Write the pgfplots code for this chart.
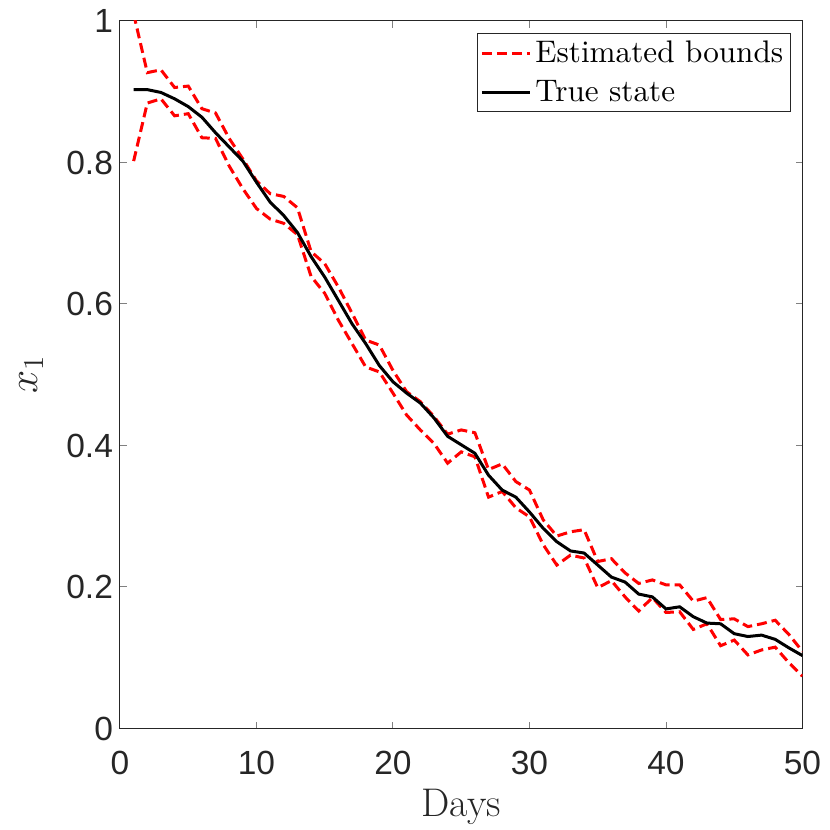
\documentclass[border=0pt]{standalone}
\usepackage{fontspec}
\usepackage{pgfplots}
\pgfplotsset{compat=1.18}
\newfontfamily\helv{Liberation Sans}
\newfontfamily\lmten{lmroman10-regular}[Extension=.otf]
\definecolor{mgray}{rgb}{0.15,0.15,0.15}
\begin{document}
\begin{tikzpicture}
\begin{axis}[
  name=ax,
  scale only axis,
  width=341.25pt, height=353.75pt,
  xmin=0, xmax=50, ymin=0, ymax=1,
  xtick={0,10,20,30,40,50},
  ytick={0,0.2,0.4,0.6,0.8,1},
  yticklabels={0,0.2,0.4,0.6,0.8,1},
  tick align=inside,
  major tick length=3.5pt,
  axis line style={mgray, line width=0.5pt},
  tick style={black!50, line width=0.5pt},
  /pgf/number format/assume math mode=true,
  tick label style={font=\helv\fontsize{16.75}{20}\selectfont, text=mgray},
  xticklabel style={yshift=-8pt},
  xlabel={Days},
  ylabel={$x_1$},
  label style={font=\fontsize{20}{24}\selectfont, text=mgray},
  xlabel style={at={(axis description cs:0.5,-0.1244)}, anchor=base},
  ylabel style={at={(axis description cs:-0.1216,0.5)}, anchor=base},
  legend style={at={(1,1)}, anchor=north east, xshift=-5.9pt, yshift=-6.15pt,
    draw=mgray, line width=0.5pt, font=\lmten\fontsize{15.6}{19}\selectfont,
    inner sep=1.5pt, row sep=3.5pt},
  legend cell align=left,
  legend image code/.code={\draw[#1] (0pt,0pt) -- (24pt,0pt);},
]
\addplot[red, line width=1.5pt, dash pattern=on 5pt off 2.5pt] coordinates {
(1,1.01)(2,0.927)(3,0.931)(4,0.906)(5,0.908)(6,0.876)(7,0.870)(8,0.834)(9,0.805)(10,0.774)
(11,0.756)(12,0.752)(13,0.736)(14,0.674)(15,0.657)(16,0.624)(17,0.587)(18,0.549)(19,0.542)(20,0.506)
(21,0.476)(22,0.462)(23,0.441)(24,0.416)(25,0.422)(26,0.418)(27,0.366)(28,0.374)(29,0.349)(30,0.337)
(31,0.295)(32,0.272)(33,0.278)(34,0.281)(35,0.236)(36,0.240)(37,0.220)(38,0.205)(39,0.210)(40,0.203)
(41,0.203)(42,0.180)(43,0.185)(44,0.154)(45,0.155)(46,0.144)(47,0.148)(48,0.153)(49,0.133)(50,0.109)
};
\addlegendentry{Estimated bounds}
\addplot[red, line width=1.5pt, dash pattern=on 5pt off 2.5pt, forget plot] coordinates {
(1,0.802)(2,0.884)(3,0.890)(4,0.866)(5,0.869)(6,0.835)(7,0.834)(8,0.795)(9,0.763)(10,0.735)
(11,0.720)(12,0.714)(13,0.698)(14,0.639)(15,0.615)(16,0.577)(17,0.544)(18,0.511)(19,0.504)(20,0.474)
(21,0.443)(22,0.422)(23,0.403)(24,0.375)(25,0.391)(26,0.384)(27,0.327)(28,0.335)(29,0.312)(30,0.299)
(31,0.260)(32,0.231)(33,0.245)(34,0.241)(35,0.199)(36,0.209)(37,0.186)(38,0.166)(39,0.185)(40,0.164)
(41,0.165)(42,0.140)(43,0.148)(44,0.117)(45,0.125)(46,0.104)(47,0.111)(48,0.115)(49,0.093)(50,0.074)
};
\addplot[black, line width=1.5pt] coordinates {
(1,0.903)(2,0.903)(3,0.899)(4,0.890)(5,0.879)(6,0.864)(7,0.842)(8,0.822)(9,0.802)(10,0.772)
(11,0.744)(12,0.725)(13,0.701)(14,0.667)(15,0.638)(16,0.605)(17,0.572)(18,0.544)(19,0.513)(20,0.490)
(21,0.474)(22,0.460)(23,0.439)(24,0.413)(25,0.401)(26,0.389)(27,0.358)(28,0.337)(29,0.327)(30,0.306)
(31,0.283)(32,0.264)(33,0.251)(34,0.248)(35,0.231)(36,0.214)(37,0.207)(38,0.190)(39,0.186)(40,0.169)
(41,0.172)(42,0.158)(43,0.149)(44,0.148)(45,0.134)(46,0.130)(47,0.132)(48,0.126)(49,0.114)(50,0.103)
};
\addlegendentry{True state}
\end{axis}
\pgfresetboundingbox
\path (ax.south west) ++(-60pt,-50.75pt) rectangle ++(415pt,415pt);
\end{tikzpicture}
\end{document}
